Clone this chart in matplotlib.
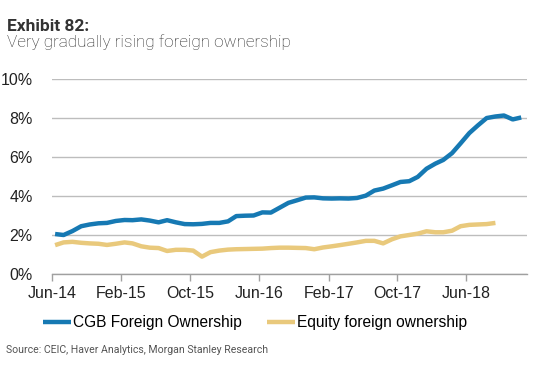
import matplotlib

matplotlib.use("Agg")
import matplotlib.pyplot as plt
import matplotlib.dates as mdates
import numpy as np
import pandas as pd

# Monthly series, Jun-14 onwards (% of market)
cgb_foreign = [
    2.05, 2.00, 2.20, 2.45, 2.54, 2.60, 2.62, 2.72, 2.77, 2.76,
    2.80, 2.74, 2.65, 2.76, 2.65, 2.56, 2.55, 2.57, 2.62, 2.62,
    2.70, 2.97, 2.99, 3.00, 3.16, 3.15, 3.40, 3.65, 3.78, 3.92,
    3.93, 3.88, 3.87, 3.88, 3.87, 3.90, 4.02, 4.28, 4.38, 4.55,
    4.72, 4.76, 4.98, 5.40, 5.66, 5.85, 6.20, 6.70, 7.23, 7.62,
    8.00, 8.08, 8.13, 7.93, 8.03,
]
equity_foreign = [
    1.48, 1.62, 1.65, 1.60, 1.57, 1.55, 1.49, 1.55, 1.62, 1.57,
    1.42, 1.35, 1.33, 1.18, 1.24, 1.24, 1.20, 0.89, 1.12, 1.20,
    1.25, 1.27, 1.28, 1.29, 1.30, 1.33, 1.35, 1.35, 1.34, 1.33,
    1.27, 1.36, 1.42, 1.48, 1.55, 1.62, 1.70, 1.70, 1.57, 1.78,
    1.93, 2.00, 2.07, 2.19, 2.14, 2.14, 2.22, 2.45, 2.52, 2.54,
    2.56, 2.62,
]
series_labels = ["CGB Foreign Ownership", "Equity foreign ownership"]
y_ticks = [0, 2, 4, 6, 8, 10]

# data points sit a little into each month; ticks mark the month start
dates_cgb = pd.date_range("2014-06-01", periods=len(cgb_foreign), freq="MS") + pd.Timedelta(days=11)
dates_eq = pd.date_range("2014-06-01", periods=len(equity_foreign), freq="MS") + pd.Timedelta(days=11)
tick_dates = pd.date_range("2014-06-01", "2018-06-01", freq="8MS")

BLUE = "#1679b3"
GOLD = "#e9c97c"
GRID = "#bdbdbd"

plt.rcParams["font.family"] = ["Liberation Sans", "DejaVu Sans"]

fig = plt.figure(figsize=(5.5, 3.66), dpi=100)
ax = fig.add_axes([0.0945, 0.2514, 0.8635, 0.5326])

ax.plot(dates_cgb, cgb_foreign, color=BLUE, lw=3.2, solid_capstyle="butt", label=series_labels[0], zorder=3)
ax.plot(dates_eq, equity_foreign, color=GOLD, lw=3.2, solid_capstyle="butt", label=series_labels[1], zorder=3)

ax.set_ylim(0, 10)
ax.set_yticks(y_ticks)
ax.set_yticklabels([f"{v}%" for v in y_ticks])
ax.set_xlim(pd.Timestamp("2014-06-01"), pd.Timestamp("2019-01-01"))
ax.set_xticks(tick_dates)
ax.xaxis.set_major_formatter(mdates.DateFormatter("%b-%y"))

ax.grid(axis="y", color=GRID, lw=1.0, zorder=1)
for side in ["left", "right", "top"]:
    ax.spines[side].set_visible(False)
ax.spines["bottom"].set_color("#a0a0a0")
ax.spines["bottom"].set_linewidth(1.0)
ax.tick_params(axis="y", length=0, pad=14, labelsize=11.5, colors="#222222")
ax.tick_params(axis="x", length=5, width=1.0, color="#a0a0a0", pad=4, labelsize=11.5, labelcolor="#222222")

fig.text(0.012, 0.915, "Exhibit 82:", family=["Roboto", "DejaVu Sans"], weight="bold",
         fontsize=12.5, color="#333333", va="baseline")
fig.text(0.012, 0.872, "Very gradually rising foreign ownership", family=["Roboto", "DejaVu Sans"],
         weight="light", fontsize=12.3, color="#2a2a2a", va="baseline")

fig.legend(loc="center", bbox_to_anchor=(0.464, 0.1175), ncol=2, frameon=False,
           fontsize=11.2, handlelength=1.8, handletextpad=0.15, columnspacing=1.6,
           borderaxespad=0)

fig.text(0.01, 0.036, "Source: CEIC, Haver Analytics, Morgan Stanley Research",
         family=["Roboto", "DejaVu Sans"], fontsize=7.6, color="#555555", va="baseline")

fig.savefig("out.png", dpi=100)
